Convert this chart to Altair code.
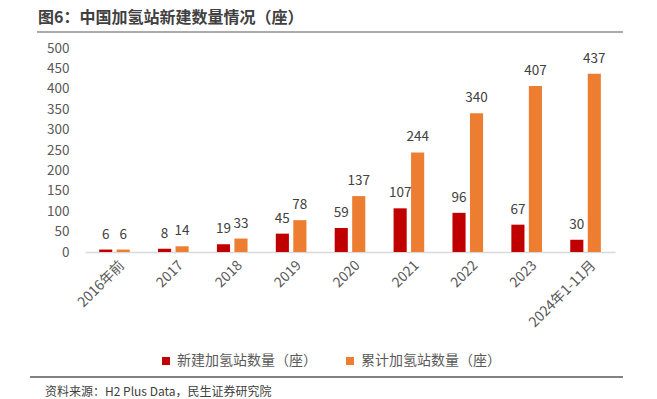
import altair as alt
import pandas as pd

categories = ["2016年前", "2017", "2018", "2019", "2020", "2021", "2022", "2023", "2024年1-11月"]
new_built = [6, 8, 19, 45, 59, 107, 96, 67, 30]
cumulative = [6, 14, 33, 78, 137, 244, 340, 407, 437]
series = ["新建加氢站数量（座）", "累计加氢站数量（座）"]
colors = ["#C00000", "#ED7D31"]

title_text = "图6：中国加氢站新建数量情况（座）"
source_text = "资料来源：H2 Plus Data，民生证券研究院"

rows = []
for c, a, b in zip(categories, new_built, cumulative):
    rows.append({"cat": c, "series": series[0], "value": a})
    rows.append({"cat": c, "series": series[1], "value": b})
df = pd.DataFrame(rows)

FONT = "Noto Sans CJK SC"

x_enc = alt.X("cat:N", sort=categories, title=None,
              scale=alt.Scale(paddingInner=0.48, paddingOuter=0.24),
              axis=alt.Axis(labelAngle=-45, labelFontSize=14, labelColor="#595959",
                            labelFont=FONT, ticks=False, domainColor="#D9D9D9",
                            domainWidth=1.5, labelPadding=6, labelOffset=3))
y_enc = alt.Y("value:Q", title=None,
              scale=alt.Scale(domain=[0, 500]),
              axis=alt.Axis(values=list(range(0, 501, 50)), grid=False, ticks=False,
                            domain=False, labelFontSize=13.5, labelColor="#595959",
                            labelFont=FONT, labelPadding=16, labelOverlap=False))
xoff = alt.XOffset("series:N", sort=series, scale=alt.Scale(paddingInner=0.25))

bars = alt.Chart(df).mark_bar().encode(
    x=x_enc, y=y_enc, xOffset=xoff,
    color=alt.Color("series:N", sort=series,
                    scale=alt.Scale(domain=series, range=colors),
                    legend=alt.Legend(title=None, orient="none", direction="horizontal",
                                      legendX=74, legendY=306, symbolType="square",
                                      symbolSize=64, labelFontSize=14, labelFont=FONT,
                                      labelColor="#595959", columnPadding=26,
                                      symbolStrokeWidth=0)),
)

labels = alt.Chart(df).mark_text(dy=-15, fontSize=13.5, color="#404040", font=FONT).encode(
    x=x_enc, y=y_enc, xOffset=xoff, text="value:Q"
)

one = pd.DataFrame({"t": [title_text]})
title = alt.Chart(one).mark_text(align="left", baseline="middle", fontSize=16,
                                 fontWeight="bold", color="#404040", font=FONT).encode(
    x=alt.value(-47), y=alt.value(-30), text="t:N")

rule_top = alt.Chart(one).mark_rule(color="#595959", strokeWidth=1.2).encode(
    x=alt.value(-48), x2=alt.value(538), y=alt.value(-16))
rule_bot = alt.Chart(one).mark_rule(color="#595959", strokeWidth=1.5).encode(
    x=alt.value(-55), x2=alt.value(538), y=alt.value(329))

src = pd.DataFrame({"t": [source_text]})
source = alt.Chart(src).mark_text(align="left", baseline="middle", fontSize=12,
                                  color="#404040", font=FONT).encode(
    x=alt.value(-40), y=alt.value(344), text="t:N")

chart = alt.layer(bars, labels, title, rule_top, rule_bot, source).properties(
    width=530, height=204,
    padding={"left": 77, "top": 40, "right": 34, "bottom": 146},
    autosize=alt.AutoSizeParams(type="none"),
).configure(background="white").configure_view(stroke=None)

chart.save("out.html", embed_options={"renderer": "svg", "actions": False})
